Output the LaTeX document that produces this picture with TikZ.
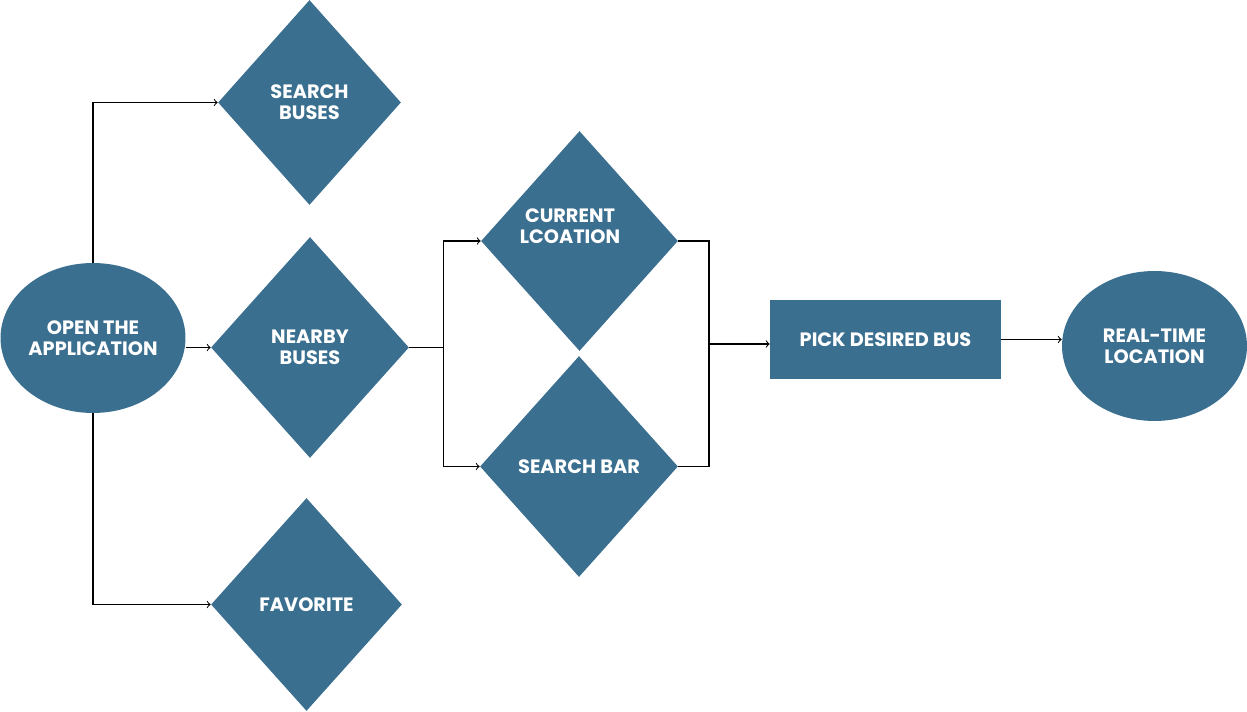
\documentclass[tikz,border=0pt]{standalone}
\usepackage{fontspec}
\setmainfont{Poppins}
\usepackage{tikz}
\usetikzlibrary{calc,arrows,shapes.geometric}
\definecolor{appblue}{HTML}{3B6F90}

\begin{document}
\begin{tikzpicture}[x=0.02cm,y=-0.02cm,
    every node/.style={fill=appblue,text=white,font=\bfseries\fontsize{11}{12}\selectfont,align=center,inner sep=0pt},
    dia/.style={diamond},
    oval/.style={ellipse,minimum width=3.7cm,minimum height=3cm},
    link/.style={draw=black,line width=0.6pt,->}]
            \useasboundingbox (0,0) rectangle (1247,712);
            \node [oval] (open) at (93,338) {OPEN THE\\APPLICATION};
            \node [dia,minimum width=3.66cm,minimum height=4.1cm] (search) at (309.5,102.5) {SEARCH\\BUSES};
            \node [dia,minimum width=3.96cm,minimum height=4.42cm] (nearby) at (310,347.5) {NEARBY\\BUSES};
            \node [dia,minimum width=3.82cm,minimum height=4.26cm] (fav) at (306.5,604.5) {FAVORITE};
            \node [dia,minimum width=3.94cm,minimum height=4.4cm,
                   label={[xshift=-0.19cm,yshift=0.3cm]center:{CURRENT\\LCOATION}}] (current) at (579.5,241) {};
            \node [dia,minimum width=3.96cm,minimum height=4.42cm] (sbar) at (579,466.5) {SEARCH BAR};
            \node [minimum width=4.62cm,minimum height=1.58cm] (pick) at (885.5,339.5) {PICK DESIRED BUS};
            \node [oval] (real) at (1154.5,346) {REAL-TIME\\LOCATION};
            % split and join points
            \coordinate (split) at (443.5,347.5);
            \coordinate (join) at (709,344);
            \draw [link] (open.north) |- (search.west);
            \draw [link] (open.east |- nearby.west) -- (nearby.west);
            \draw [link] (open.south) |- (fav.west);
            \draw [line width=0.6pt] (nearby.east) -- (split);
            \draw [link] (split) |- (current.west);
            \draw [link] (split) |- (sbar.west);
            \draw [line width=0.6pt] (current.east) -| (join) |- (sbar.east);
            \draw [link] (join) -- (join -| pick.west);
            \draw [link] (pick.east) -- (pick.east -| real.west);
        \end{tikzpicture}
\end{document}
